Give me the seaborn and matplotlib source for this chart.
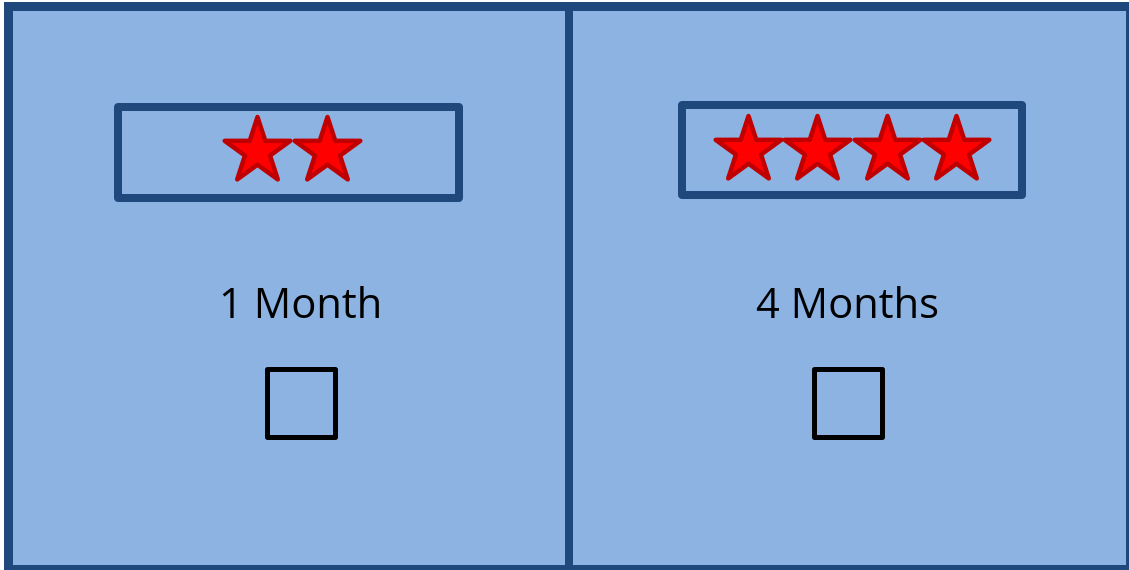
import numpy as np
import pandas as pd
import seaborn as sns
import matplotlib.pyplot as plt
from matplotlib.patches import Rectangle

# data
periods = ["1 Month", "4 Months"]
star_counts = [2, 4]

# layout (pixel units, y down)
panel_text_x = [301, 848]
box_x = [(118, 459), (682, 1022)]
box_y = [(107, 198), (105, 195)]
star_center_x = [292, 852]
star_y = [151, 150]
star_gap = 69.5

sns.set_theme(style="white")
plt.rcParams["font.family"] = ["Open Sans", "DejaVu Sans"]

bg = "#8DB3E2"
dark = "#1F497D"

fig = plt.figure(figsize=(11.29, 5.70), dpi=100)
ax = fig.add_axes([0, 0, 1, 1])
ax.set_xlim(0, 1129)
ax.set_ylim(570, 0)
ax.axis("off")

px = 72 / 100  # points per pixel

# outer frame and divider
ax.add_patch(Rectangle((7.5, 6), 1122.5, 563, facecolor=bg, edgecolor=dark,
                       linewidth=9 * px, zorder=0))
ax.plot([569, 569], [6, 569], color=dark, linewidth=8 * px, zorder=1)

# star boxes
for (x0, x1), (y0, y1) in zip(box_x, box_y):
    ax.add_patch(Rectangle((x0, y0), x1 - x0, y1 - y0, facecolor="none",
                           edgecolor=dark, linewidth=8 * px, joinstyle="round", zorder=2))

# stars
rows = []
for p, n, cx, cy in zip(periods, star_counts, star_center_x, star_y):
    for i in range(n):
        rows.append({"period": p, "x": cx + (i - (n - 1) / 2) * star_gap, "y": cy})
stars = pd.DataFrame(rows)
sns.scatterplot(data=stars, x="x", y="y", marker="*", s=(69 * px) ** 2,
                color="#FF0000", edgecolor="#C00000", linewidth=4.5 * px,
                legend=False, ax=ax, zorder=3)

# labels
for p, tx in zip(periods, panel_text_x):
    ax.text(tx, 318, p, ha="center", va="baseline", fontsize=30, color="black")

# empty check boxes
boxes = pd.DataFrame({"period": periods, "x": panel_text_x, "y": [403, 403]})
sns.scatterplot(data=boxes, x="x", y="y", marker="s", s=(68 * px) ** 2,
                facecolor="none", edgecolor="black", linewidth=5 * px,
                legend=False, ax=ax, zorder=3)

ax.set_xlabel("")
ax.set_ylabel("")
fig.savefig("out.png", dpi=100)
